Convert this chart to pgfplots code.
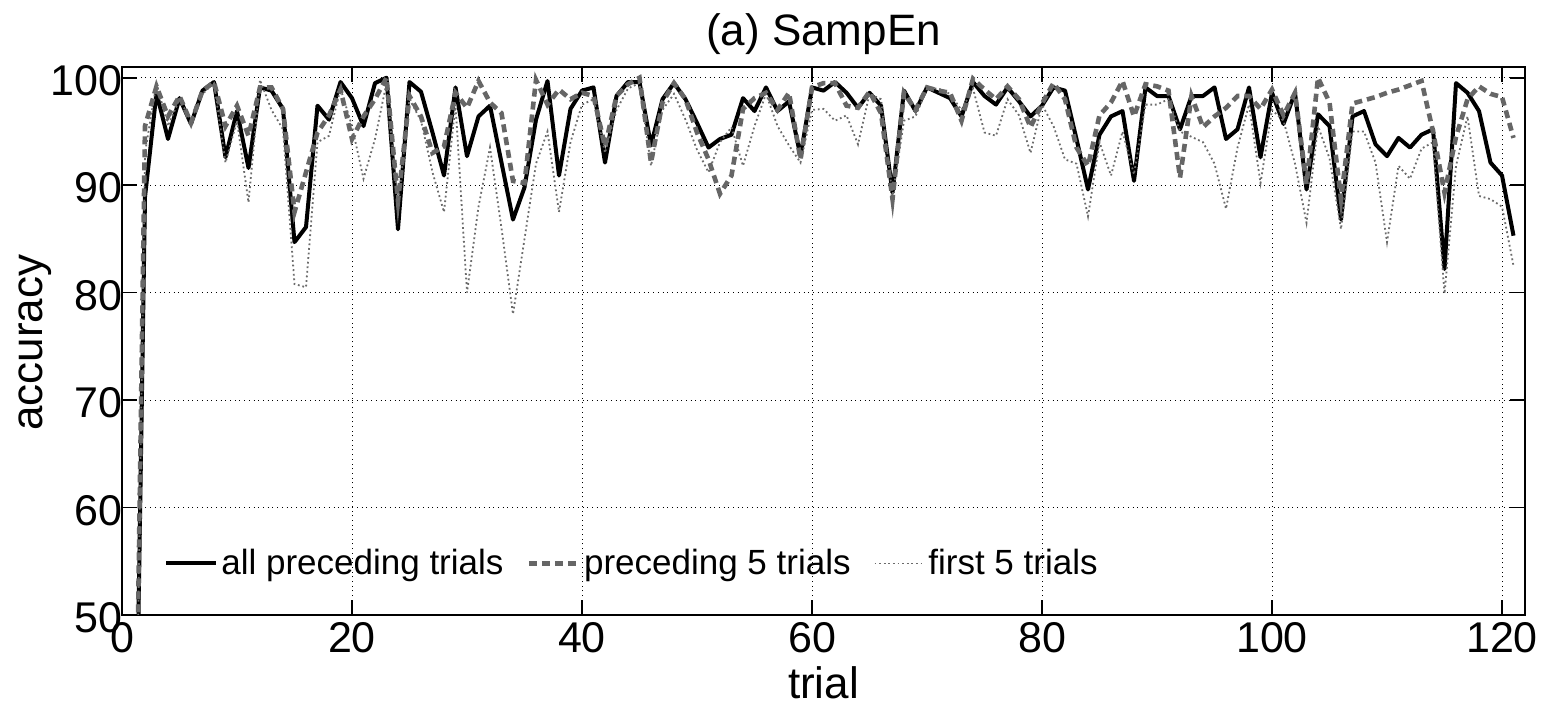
\documentclass[border=0pt]{standalone}
\usepackage{fontspec}
\setmainfont{Liberation Sans}
\usepackage{pgfplots}
\usepackage{pgfplotstable}
\pgfplotsset{compat=1.18}
\definecolor{dgray}{rgb}{0.40,0.40,0.40}
\definecolor{lgray}{rgb}{0.42,0.42,0.42}
\pgfplotstableread{
t b g d
1 20 20 20
2 88.9 95.5 93
3 98.6 99.2 99.5
4 94.3 96.4 95.5
5 98.1 98.3 98
6 95.7 95.8 96
7 98.8 98.8 98.5
8 99.6 99.6 99.5
9 92.6 95.5 92.1
10 96.9 97.4 96
11 91.6 94.6 88.4
12 99.1 99.1 99.8
13 98.8 99.1 97
14 97.1 97.1 95.2
15 84.7 87.5 80.8
16 86.1 91.2 80.5
17 97.4 94.9 94
18 96.1 96.5 94.6
19 99.6 98.9 99
20 98.1 94.3 95.5
21 95.5 96.4 90.6
22 99.5 98 94.3
23 100 100 99.5
24 85.9 88.5 88
25 99.6 98.3 98
26 98.7 96.4 96
27 94.9 93 91.2
28 90.9 93.6 87.5
29 99.1 98.6 97.5
30 92.7 97.2 80
31 96.4 99.7 88
32 97.4 97.7 93.5
33 92.1 96.7 86
34 86.8 90.4 78
35 89.8 90.2 85
36 96.1 99.8 92
37 99.7 97.5 95
38 90.9 98.9 87.5
39 97.1 98 94
40 98.8 98.6 97.5
41 99.1 98.3 98
42 92.1 93.6 93
43 98.3 98.3 97
44 99.6 99.4 99
45 99.6 100 99.5
46 93.7 92.1 91.8
47 98 97.7 97
48 99.5 99.5 98.5
49 98 98 96.1
50 95.8 94.9 93.3
51 93.5 92.4 91.2
52 94.3 89.2 94
53 94.7 90.9 95.4
54 98.1 97.1 91.8
55 96.9 98.1 95.5
56 99.1 98.6 98.5
57 96.9 97 95.5
58 97.8 98.6 93.7
59 92.7 92.4 92.1
60 99.1 99.1 97
61 98.8 99.5 97.1
62 99.6 99.5 96
63 98.6 97.4 96.5
64 97.2 97.2 93.8
65 98.6 98.7 98.5
66 97.4 96.7 98
67 89.3 88.7 89
68 98.8 98.6 96
69 96.9 97 96.4
70 99.1 99.1 99
71 98.6 98.8 99
72 98.1 98.6 98.5
73 96.4 96 97
74 99.6 99.9 99
75 98.3 98.9 94.9
76 97.5 98 94.6
77 99.1 99.2 98
78 97.8 98 96.5
79 96.4 95.4 93
80 97.4 97.6 97.5
81 99.1 99.5 95.5
82 98.8 98 92.4
83 94.3 93.5 92
84 89.6 91.8 87.1
85 94.7 96.5 94
86 96.4 97.7 90.9
87 96.9 99.7 95
88 90.4 96.4 91
89 99.1 99.4 97.5
90 98.3 99.2 97.5
91 98.3 98.8 98
92 95.2 90.7 95
93 98.3 98.3 94.5
94 98.3 95.4 94
95 99.1 96.4 92
96 94.3 97.2 87.8
97 95.2 98.3 93.5
98 99.1 98.3 97.5
99 92.6 97.1 90.2
100 98.6 98.9 97
101 95.7 96.5 96
102 98.6 98.6 92
103 89.6 90.1 86.5
104 96.6 100 95.5
105 95.5 97.7 92.5
106 86.8 88.7 85.9
107 96.4 97.6 95
108 96.9 97.9 95
109 93.8 98.2 92.1
110 92.7 98.6 84.7
111 94.4 98.9 91.8
112 93.5 99.3 90.6
113 94.7 99.7 93.4
114 95.2 95 94
115 82.2 89.3 79.9
116 99.5 94.5 91.8
117 98.6 98 96.4
118 96.9 99.2 89
119 92.1 98.5 88.7
120 90.9 98.2 88
121 85.3 94.4 82.5
}\datatable
\begin{document}
\begin{tikzpicture}
\begin{axis}[
  scale only axis,
  width=701.5pt, height=274pt,
  xmin=0, xmax=122, ymin=50, ymax=101,
  xtick={0,20,...,120}, ytick={50,60,...,100},
  tick align=inside,
  major tick length=7.5pt,
  axis line style={line width=0.8pt},
  every tick/.style={black, line width=0.8pt},
  grid=major,
  major grid style={black, line width=0.5pt, dash pattern=on 0.5pt off 1.85pt},
  /pgf/number format/assume math mode=true,
  ticklabel style={font=\fontsize{21.5}{22}\selectfont},
  yticklabel style={xshift=3.5pt, yshift=-1.5pt},
  title={(a) SampEn},
  title style={font=\fontsize{22}{24}\selectfont, at={(axis description cs:0.5,1)}, anchor=base, yshift=4.5pt},
  xlabel={trial},
  xlabel style={font=\fontsize{22}{24}\selectfont, at={(axis description cs:0.5,0)}, anchor=base, yshift=-42pt},
  ylabel={accuracy},
  ylabel style={font=\fontsize{22}{24}\selectfont, at={(axis description cs:-0.057,0.497)}, anchor=base, rotate=0},
  legend columns=3,
  legend style={draw=none, fill=none, inner sep=0pt,
    font=\fontsize{17.5}{19}\selectfont,
    at={(axis description cs:0,0)}, anchor=south west, xshift=21pt, yshift=17pt,
    nodes={inner sep=1.5pt},
    /tikz/every even column/.append style={column sep=10pt}},
  legend image code/.code={\draw[#1] (0pt,0pt) -- (25pt,0pt);},
]
\addplot[black, line width=2pt, line join=round] table[x=t, y=b] {\datatable};
\addlegendentry{all preceding trials}
\addplot[dgray, line width=2.3pt, dash pattern=on 4pt off 2.5pt] table[x=t, y=g] {\datatable};
\addlegendentry{preceding 5 trials}
\addplot[lgray, line width=0.9pt, dash pattern=on 0.9pt off 1.4pt] table[x=t, y=d] {\datatable};
\addlegendentry{first 5 trials}
\end{axis}
\coordinate (ll) at ([shift={(-61pt,-45.5pt)}]current axis.south west);
\coordinate (ur) at ([shift={(10.5pt,33.5pt)}]current axis.north east);
\pgfresetboundingbox
\path[use as bounding box] (ll) rectangle (ur);
\end{tikzpicture}
\end{document}
